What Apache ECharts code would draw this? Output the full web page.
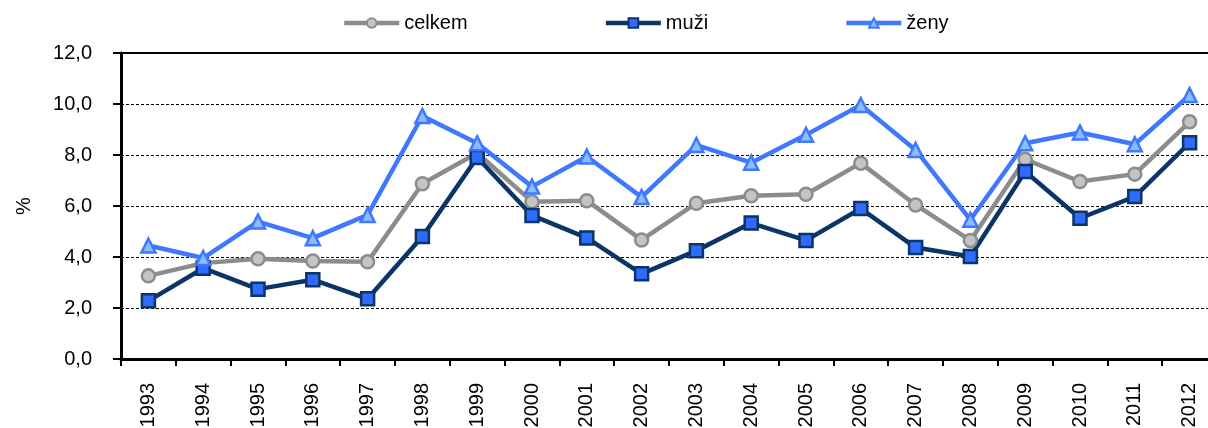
<!DOCTYPE html>
<html>
<head>
    <meta charset="utf-8">
    <title>celkem / muži / ženy</title>
    <script src="https://cdn.jsdelivr.net/npm/echarts@6/dist/echarts.min.js"></script>
    <style>
        html, body { margin: 0; padding: 0; background: #fff; }
        #chart1 { width: 1208px; height: 428px; }
    </style>
</head>
<body>
<div id="chart1"></div>
<script type="text/javascript">
    // data
    var years = ['1993', '1994', '1995', '1996', '1997', '1998', '1999', '2000', '2001', '2002',
                 '2003', '2004', '2005', '2006', '2007', '2008', '2009', '2010', '2011', '2012'];
    var celkem = [3.26, 3.76, 3.93, 3.84, 3.81, 6.87, 8.08, 6.17, 6.21, 4.67,
                  6.11, 6.40, 6.46, 7.68, 6.04, 4.65, 7.83, 6.96, 7.25, 9.30];
    var muzi = [2.28, 3.56, 2.74, 3.11, 2.36, 4.80, 7.90, 5.63, 4.75, 3.34,
                4.25, 5.33, 4.65, 5.90, 4.37, 4.02, 7.35, 5.52, 6.37, 8.48];
    var zeny = [4.45, 3.96, 5.39, 4.74, 5.65, 9.53, 8.46, 6.76, 7.94, 6.35,
                8.39, 7.70, 8.79, 9.96, 8.20, 5.46, 8.46, 8.88, 8.42, 10.35];
    var yTicks = [0, 2, 4, 6, 8, 10, 12];

    var font = 'Liberation Sans, Arial, sans-serif';
    var myChart1 = echarts.init(document.getElementById('chart1'));

    function line(name, data, color, symbol, fill, size) {
        return {
            name: name,
            type: 'line',
            data: data,
            symbol: symbol,
            symbolSize: size,
            showAllSymbol: true,
            lineStyle: { color: color, width: 4.5 },
            itemStyle: { color: fill, borderColor: color, borderWidth: 2.5 }
        };
    }

    myChart1.setOption({
        animation: false,
        textStyle: { fontFamily: font },
        legend: {//图例
            top: 8,
            left: 337,
            itemGap: 136,
            itemWidth: 55,
            itemHeight: 12,
            lineStyle: { width: 4.5 },
            textStyle: { fontSize: 20, color: '#000', fontFamily: font },
            data: ['celkem', 'muži', 'ženy']
        },
        grid: {
            left: 121,
            right: -9,
            top: 53,
            bottom: 69,
            outerBoundsMode: 'none',
            show: true,
            borderColor: '#000',
            borderWidth: 2
        },
        xAxis: {
            type: 'category',
            data: years,
            boundaryGap: true,
            axisLine: { lineStyle: { color: '#000', width: 3 } },
            axisTick: { show: true, length: 7, lineStyle: { color: '#000', width: 2 } },
            axisLabel: { rotate: 90, margin: 24, fontSize: 20, color: '#000', fontFamily: font }
        },
        yAxis: {
            type: 'value',
            min: yTicks[0],
            max: yTicks[yTicks.length - 1],
            interval: 2,
            name: '%',
            nameLocation: 'middle',
            nameGap: 87,
            nameRotate: 90,
            nameTextStyle: { fontSize: 20, color: '#000', fontFamily: font },
            axisLine: { show: true, lineStyle: { color: '#000', width: 3 } },
            axisTick: { show: true, length: 8, lineStyle: { color: '#000', width: 2 } },
            axisLabel: {
                fontSize: 20, color: '#000', margin: 29, fontFamily: font,
                formatter: function (v) { return v.toFixed(1).replace('.', ','); }
            },
            splitLine: { lineStyle: { color: '#000', width: 1, type: [3, 2] } }
        },
        series: [
            line('celkem', celkem, '#8c8c8c', 'circle', '#c4c4c4', 13),
            line('muži', muzi, '#0b3566', 'rect', '#2f6bff', 13),
            line('ženy', zeny, '#3f78ff', 'triangle', '#8cbcff', 14)
        ]
    });
</script>
</body>
</html>
